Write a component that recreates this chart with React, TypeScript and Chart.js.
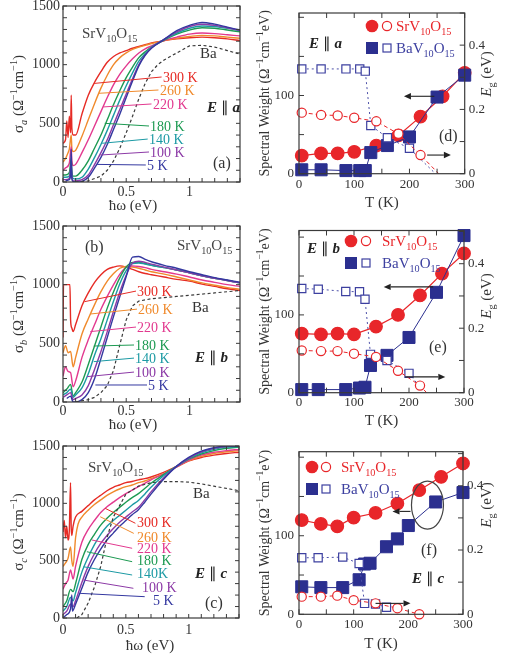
import React, { useEffect, useRef } from 'react';
import { Chart, registerables } from 'chart.js';
Chart.register(...registerables);

const SERIF = '"Liberation Serif", "Times New Roman", Times, serif';
const INK = '#333333';
const RED = '#e8262a';
const NAVY = '#2b2f8f';
const NAVY_TXT = '#3d40a0';

// ---------- temperature legend of the spectra ----------
const TEMP_LABELS = ['300 K', '260 K', '220 K', '180 K', '140 K', '100 K', '5 K'];
const TEMP_LABELS_C = ['300 K', '260 K', '220 K', '180 K', '140K', '100 K', '5 K'];
const TEMP_COLORS = ['#e62b25', '#f08a2c', '#e2398f', '#1d9a52', '#1c9aa4', '#8c3aa6', '#3438a0'];

// ---------- (a) sigma_a [eV, ohm^-1 cm^-1] ----------
const A_300 = [[0,330],[0.02,360],[0.03,520],[0.04,380],[0.05,560],[0.06,420],[0.065,740],[0.07,460],[0.08,400],[0.1,400],[0.15,580],[0.2,740],[0.25,850],[0.3,940],[0.35,1020],[0.4,1070],[0.45,1100],[0.5,1120],[0.55,1140],[0.6,1155],[0.65,1170],[0.7,1185],[0.8,1205],[0.9,1220],[1.0,1230],[1.1,1235],[1.2,1230],[1.3,1220],[1.4,1205]];
const A_260 = [[0,170],[0.02,200],[0.04,250],[0.05,280],[0.065,400],[0.07,290],[0.08,260],[0.1,270],[0.15,390],[0.2,530],[0.25,670],[0.3,800],[0.35,910],[0.4,1000],[0.45,1060],[0.5,1100],[0.55,1130],[0.6,1150],[0.65,1165],[0.7,1180],[0.8,1205],[0.9,1225],[1.0,1240],[1.1,1250],[1.2,1245],[1.3,1235],[1.4,1225]];
const A_220 = [[0,100],[0.02,120],[0.05,160],[0.065,300],[0.07,180],[0.08,140],[0.1,150],[0.15,250],[0.2,360],[0.25,480],[0.3,600],[0.35,720],[0.4,830],[0.45,920],[0.5,990],[0.55,1050],[0.6,1100],[0.65,1135],[0.7,1160],[0.8,1205],[0.9,1235],[1.0,1260],[1.1,1270],[1.2,1265],[1.3,1255],[1.4,1245]];
const A_180 = [[0,60],[0.02,60],[0.05,80],[0.065,200],[0.07,90],[0.08,50],[0.1,50],[0.15,100],[0.2,180],[0.25,290],[0.3,400],[0.35,530],[0.4,660],[0.45,780],[0.5,890],[0.55,980],[0.6,1060],[0.65,1110],[0.7,1150],[0.8,1210],[0.9,1260],[1.0,1295],[1.1,1315],[1.2,1310],[1.3,1295],[1.4,1280]];
const A_140 = [[0,40],[0.02,40],[0.05,50],[0.065,120],[0.07,60],[0.08,30],[0.1,25],[0.15,40],[0.2,110],[0.25,210],[0.3,320],[0.35,440],[0.4,570],[0.45,700],[0.5,820],[0.55,930],[0.6,1030],[0.65,1095],[0.7,1150],[0.8,1215],[0.9,1270],[1.0,1310],[1.1,1330],[1.2,1325],[1.3,1310],[1.4,1290]];
const A_100 = [[0,20],[0.02,20],[0.05,30],[0.065,150],[0.07,40],[0.08,10],[0.1,10],[0.15,20],[0.2,60],[0.25,150],[0.3,250],[0.35,360],[0.4,490],[0.45,620],[0.5,750],[0.55,880],[0.6,1000],[0.65,1085],[0.7,1145],[0.8,1215],[0.9,1280],[1.0,1325],[1.1,1345],[1.2,1335],[1.3,1315],[1.4,1290]];
const A_5 = [[0.02,10],[0.05,20],[0.06,60],[0.065,280],[0.07,30],[0.08,5],[0.1,0],[0.15,5],[0.2,40],[0.25,120],[0.3,210],[0.35,320],[0.4,450],[0.45,580],[0.5,720],[0.55,860],[0.6,990],[0.65,1080],[0.7,1140],[0.8,1215],[0.9,1290],[1.0,1335],[1.1,1360],[1.2,1345],[1.3,1320],[1.4,1295]];
const A_BA = [[0.1,0],[0.2,10],[0.3,50],[0.35,100],[0.4,180],[0.45,290],[0.5,420],[0.55,560],[0.6,710],[0.65,840],[0.7,940],[0.75,1000],[0.8,1040],[0.9,1100],[1.0,1160],[1.1,1165],[1.2,1150],[1.3,1120],[1.4,1090]];

// ---------- (b) sigma_b ----------
const B_300 = [[0,550],[0.004,1000],[0.055,1000],[0.06,700],[0.07,630],[0.08,600],[0.1,660],[0.15,820],[0.2,930],[0.25,1020],[0.3,1085],[0.35,1130],[0.4,1150],[0.45,1160],[0.5,1150],[0.55,1130],[0.6,1110],[0.65,1095],[0.7,1085],[0.8,1065],[0.9,1045],[1.0,1030],[1.1,1005],[1.2,985],[1.3,965],[1.4,950]];
const B_260 = [[0,420],[0.02,480],[0.04,420],[0.06,430],[0.08,300],[0.1,380],[0.15,580],[0.2,710],[0.25,830],[0.3,940],[0.35,1030],[0.4,1095],[0.45,1140],[0.5,1155],[0.55,1150],[0.6,1140],[0.65,1125],[0.7,1110],[0.8,1090],[0.9,1065],[1.0,1040],[1.1,1015],[1.2,995],[1.3,975],[1.4,960]];
const B_220 = [[0,220],[0.02,300],[0.04,260],[0.06,250],[0.08,130],[0.1,180],[0.15,380],[0.2,530],[0.25,660],[0.3,790],[0.35,900],[0.4,1000],[0.45,1090],[0.5,1150],[0.55,1160],[0.6,1155],[0.65,1145],[0.7,1130],[0.8,1110],[0.9,1090],[1.0,1065],[1.1,1040],[1.2,1020],[1.3,1000],[1.4,985]];
const B_180 = [[0,80],[0.03,110],[0.06,150],[0.08,50],[0.1,80],[0.15,170],[0.2,320],[0.25,480],[0.3,640],[0.35,800],[0.4,940],[0.45,1060],[0.5,1150],[0.55,1190],[0.6,1190],[0.65,1180],[0.7,1165],[0.8,1145],[0.9,1125],[1.0,1100],[1.1,1075],[1.2,1055],[1.3,1035],[1.4,1015]];
const B_140 = [[0,60],[0.03,80],[0.06,110],[0.08,40],[0.1,60],[0.15,120],[0.2,240],[0.25,400],[0.3,540],[0.35,700],[0.4,860],[0.45,1010],[0.5,1120],[0.55,1180],[0.6,1185],[0.65,1175],[0.7,1165],[0.8,1145],[0.9,1125],[1.0,1100],[1.1,1075],[1.2,1055],[1.3,1035],[1.4,1015]];
const B_100 = [[0,40],[0.03,60],[0.06,80],[0.08,20],[0.1,30],[0.15,60],[0.2,140],[0.25,280],[0.3,430],[0.35,600],[0.4,775],[0.45,940],[0.5,1080],[0.55,1185],[0.6,1200],[0.65,1190],[0.7,1175],[0.8,1150],[0.9,1125],[1.0,1100],[1.1,1075],[1.2,1055],[1.3,1035],[1.4,1015]];
const B_5 = [[0.03,30],[0.06,50],[0.08,0],[0.1,0],[0.15,20],[0.2,80],[0.25,200],[0.3,370],[0.35,550],[0.4,730],[0.45,900],[0.5,1070],[0.55,1235],[0.6,1240],[0.65,1215],[0.7,1195],[0.8,1165],[0.9,1140],[1.0,1110],[1.1,1085],[1.2,1060],[1.3,1040],[1.4,1020]];
const B_BA = [[0.1,0],[0.2,20],[0.25,40],[0.3,80],[0.35,140],[0.4,270],[0.45,490],[0.5,700],[0.55,820],[0.6,860],[0.7,880],[0.8,890],[0.9,900],[1.0,910],[1.1,920],[1.2,930],[1.3,940],[1.4,950]];

// ---------- (c) sigma_c ----------
const C_300 = [[0,750],[0.01,850],[0.02,700],[0.03,800],[0.04,680],[0.05,760],[0.06,1180],[0.065,800],[0.07,720],[0.08,800],[0.1,880],[0.15,930],[0.2,980],[0.25,1030],[0.3,1070],[0.35,1110],[0.4,1140],[0.45,1160],[0.5,1180],[0.55,1190],[0.6,1205],[0.65,1215],[0.7,1230],[0.8,1270],[0.9,1320],[1.0,1370],[1.1,1400],[1.2,1420],[1.3,1435],[1.4,1445]];
const C_260 = [[0,450],[0.02,480],[0.04,520],[0.06,620],[0.07,500],[0.08,450],[0.1,700],[0.12,820],[0.15,880],[0.2,940],[0.25,990],[0.3,1030],[0.35,1070],[0.4,1100],[0.45,1125],[0.5,1145],[0.55,1160],[0.6,1180],[0.65,1195],[0.7,1215],[0.8,1260],[0.9,1315],[1.0,1370],[1.1,1410],[1.2,1435],[1.3,1450],[1.4,1460]];
const C_220 = [[0,250],[0.02,300],[0.04,330],[0.06,420],[0.07,380],[0.08,340],[0.1,450],[0.15,660],[0.2,770],[0.25,850],[0.3,920],[0.35,970],[0.4,1010],[0.45,1050],[0.5,1085],[0.55,1115],[0.6,1145],[0.65,1175],[0.7,1205],[0.8,1255],[0.9,1315],[1.0,1375],[1.1,1420],[1.2,1445],[1.3,1460],[1.4,1470]];
const C_180 = [[0,100],[0.03,150],[0.06,250],[0.08,230],[0.1,300],[0.15,510],[0.2,640],[0.25,730],[0.3,810],[0.35,870],[0.4,920],[0.45,965],[0.5,1010],[0.55,1050],[0.6,1085],[0.65,1130],[0.7,1175],[0.8,1250],[0.9,1320],[1.0,1385],[1.1,1430],[1.2,1460],[1.3,1480],[1.4,1490]];
const C_140 = [[0,60],[0.03,100],[0.06,180],[0.08,150],[0.1,220],[0.15,400],[0.2,530],[0.25,640],[0.3,730],[0.35,800],[0.4,850],[0.45,895],[0.5,940],[0.55,985],[0.6,1025],[0.65,1080],[0.7,1140],[0.8,1240],[0.9,1320],[1.0,1390],[1.1,1440],[1.2,1470],[1.3,1490],[1.4,1495]];
const C_100 = [[0,30],[0.03,60],[0.06,120],[0.08,100],[0.1,150],[0.15,310],[0.2,450],[0.25,560],[0.3,650],[0.35,720],[0.4,780],[0.45,835],[0.5,880],[0.55,925],[0.6,965],[0.65,1030],[0.7,1100],[0.8,1220],[0.9,1320],[1.0,1395],[1.1,1450],[1.2,1480],[1.3,1495],[1.4,1500]];
const C_5 = [[0,0],[0.03,30],[0.06,80],[0.07,200],[0.075,60],[0.1,120],[0.15,260],[0.2,400],[0.25,510],[0.3,600],[0.35,680],[0.4,740],[0.45,800],[0.5,850],[0.55,900],[0.6,945],[0.65,1010],[0.7,1080],[0.8,1210],[0.9,1320],[1.0,1400],[1.1,1455],[1.2,1485],[1.3,1500],[1.4,1500]];
const C_BA = [[0.11,0],[0.15,30],[0.2,130],[0.25,270],[0.3,450],[0.35,700],[0.4,880],[0.45,980],[0.5,1080],[0.6,1150],[0.7,1180],[0.8,1190],[0.9,1190],[1.0,1185],[1.1,1170],[1.2,1150],[1.3,1130],[1.4,1110]];

// ---------- (d) E || a : spectral weight and gap ----------
const D_T_SR = [5, 40, 70, 100, 140, 180, 220, 260, 300];
const D_SW_SR = [23, 26, 26, 28, 36, 49, 73, 99, 129];
const D_T_BA = [5, 40, 85, 110, 120, 130, 160, 200, 250, 300];
const D_SW_BA = [5, 5, 4, 4, 4, 27, 36, 47, 98, 126];
const D_EG_T_SR = [5, 40, 70, 100, 140, 180, 220];
const D_EG_SR = [0.19, 0.183, 0.181, 0.174, 0.163, 0.124, 0.058];
const D_EG_T_BA = [5, 40, 85, 110, 120, 130, 160, 200];
const D_EG_BA = [0.326, 0.326, 0.326, 0.326, 0.319, 0.15, 0.112, 0.079];
const D_EG_ZERO = [253, 247]; // T where the dashed extrapolations reach Eg = 0 (Sr, Ba)

// ---------- (e) E || b ----------
const E_T_SR = [5, 40, 70, 100, 140, 180, 220, 260, 300];
const E_SW_SR = [76, 75, 76, 75, 85, 100, 125, 153, 179];
const E_T_BA = [5, 35, 85, 110, 120, 130, 160, 200, 250, 300];
const E_SW_BA = [4, 4, 4, 6, 7, 35, 48, 71, 129, 202];
const E_EG_T_SR = [5, 40, 70, 100, 140, 180, 220];
const E_EG_SR = [0.131, 0.129, 0.129, 0.121, 0.111, 0.068, 0.022];
const E_EG_T_BA = [5, 35, 85, 110, 120, 130, 160, 200];
const E_EG_BA = [0.323, 0.321, 0.314, 0.313, 0.29, 0.119, 0.1, 0.06];
const E_EG_ZERO = [232, 228];

// ---------- (f) E || c ----------
const F_T_SR = [5, 40, 70, 100, 140, 180, 220, 260, 300];
const F_SW_SR = [120, 115, 112, 123, 129, 141, 158, 175, 192];
const F_T_BA = [5, 40, 80, 110, 120, 130, 160, 180, 200, 250, 300];
const F_SW_BA = [35, 34, 34, 44, 64, 65, 86, 96, 113, 143, 155];
const F_EG_T_SR = [5, 40, 70, 100, 140, 180, 220];
const F_EG_SR = [0.055, 0.055, 0.058, 0.044, 0.034, 0.019, 0];
const F_EG_T_BA = [5, 35, 80, 110, 120, 140, 160];
const F_EG_BA = [0.176, 0.176, 0.178, 0.158, 0.034, 0.032, 0.022];
const F_EG_ZERO = [null, null];

// ---------- rich text helpers ----------
type Part = [string, string];
const SR_NAME: Part[] = [['SrV', ''], ['10', '_'], ['O', ''], ['15', '_']];
const BA_NAME: Part[] = [['BaV', ''], ['10', '_'], ['O', ''], ['15', '_']];
const sigmaTitle = (s: string): Part[] => [['σ', ''], [s, 'i_'], [' (Ω', ''], ['−1', '^'], ['cm', ''], ['−1', '^'], [')', '']];
const SW_TITLE: Part[] = [['Spectral Weight (Ω', ''], ['−1', '^'], ['cm', ''], ['−1', '^'], ['eV)', '']];
const EG_TITLE: Part[] = [['E', 'i'], ['g', '_'], [' (eV)', '']];
const ePar = (s: string): Part[] => [['E', 'bi'], [' ∥ ', ''], [s, 'bi']];

function partFont(style: string, size: number) {
  const small = style.includes('_') || style.includes('^');
  const sz = small ? size * 0.68 : size;
  return {
    font: `${style.includes('i') ? 'italic ' : ''}${style.includes('b') ? 'bold ' : ''}${sz}px ${SERIF}`,
    dy: style.includes('_') ? size * 0.28 : style.includes('^') ? -size * 0.38 : 0,
  };
}
function drawRich(ctx: any, parts: Part[], x: number, y: number, size: number, color: string, align = 'left', rot = 0) {
  ctx.save();
  ctx.translate(x, y);
  if (rot) ctx.rotate(rot);
  ctx.fillStyle = color;
  ctx.textAlign = 'left';
  ctx.textBaseline = 'alphabetic';
  let w = 0;
  for (const [t, s] of parts) { ctx.font = partFont(s, size).font; w += ctx.measureText(t).width; }
  let cx = align === 'center' ? -w / 2 : align === 'right' ? -w : 0;
  const base = size * 0.34;
  for (const [t, s] of parts) {
    const f = partFont(s, size);
    ctx.font = f.font;
    ctx.fillText(t, cx, base + f.dy);
    cx += ctx.measureText(t).width;
  }
  ctx.restore();
}

function drawTicks(ctx: any, scale: any, step: number, side: string, a: any, len: number) {
  const n = Math.round((scale.max - scale.min) / step + 1e-6);
  for (let k = 0; k <= n; k++) {
    const v = scale.min + k * step;
    const p = scale.getPixelForValue(v);
    ctx.beginPath();
    if (side === 'bottom') { ctx.moveTo(p, a.bottom); ctx.lineTo(p, a.bottom - len); }
    if (side === 'top') { ctx.moveTo(p, a.top); ctx.lineTo(p, a.top + len); }
    if (side === 'left') { ctx.moveTo(a.left, p); ctx.lineTo(a.left + len, p); }
    if (side === 'right') { ctx.moveTo(a.right, p); ctx.lineTo(a.right - len, p); }
    ctx.stroke();
  }
}

function arrow(ctx: any, x1: number, y1: number, x2: number, y2: number, color: string) {
  const ang = Math.atan2(y2 - y1, x2 - x1);
  const hl = 7, hw = 3.2;
  ctx.save();
  ctx.strokeStyle = color; ctx.fillStyle = color; ctx.lineWidth = 1.1;
  ctx.beginPath(); ctx.moveTo(x1, y1);
  ctx.lineTo(x2 - hl * Math.cos(ang), y2 - hl * Math.sin(ang)); ctx.stroke();
  ctx.beginPath();
  ctx.moveTo(x2, y2);
  ctx.lineTo(x2 - hl * Math.cos(ang) + hw * Math.sin(ang), y2 - hl * Math.sin(ang) - hw * Math.cos(ang));
  ctx.lineTo(x2 - hl * Math.cos(ang) - hw * Math.sin(ang), y2 - hl * Math.sin(ang) + hw * Math.cos(ang));
  ctx.closePath(); ctx.fill();
  ctx.restore();
}

const tickLabel = (majors: number[]) => (v: any) => {
  const m = majors.find((t) => Math.abs(t - Number(v)) < 1e-6);
  return m === undefined ? '' : String(m);
};
const tickFont = { family: SERIF, size: 14 };
const tickFontR = { family: SERIF, size: 13 };

// ---------- spectra panels (left column) ----------
function spectraConfig(p: any) {
  const datasets: any[] = [];
  datasets.push({
    data: p.ba.map(([x, y]: number[]) => ({ x, y })),
    borderColor: '#3a3a3a', borderDash: [3, 2.5], borderWidth: 1.2, pointRadius: 0,
  });
  for (let i = p.curves.length - 1; i >= 0; i--) {
    datasets.push({
      data: p.curves[i].map(([x, y]: number[]) => ({ x, y })),
      borderColor: TEMP_COLORS[i], borderWidth: 1.4, pointRadius: 0, cubicInterpolationMode: 'monotone',
    });
  }
  const plugin = {
    id: 'spectraDeco',
    afterDatasetsDraw(chart: any) {
      const { ctx, chartArea: a, scales } = chart;
      ctx.save();
      ctx.strokeStyle = '#3a3a3a'; ctx.lineWidth = 1;
      drawTicks(ctx, scales.x, 0.1, 'bottom', a, 4);
      drawTicks(ctx, scales.x, 0.1, 'top', a, 4);
      drawTicks(ctx, scales.y, 100, 'left', a, 4);
      drawTicks(ctx, scales.y, 100, 'right', a, 4);
      ctx.lineWidth = 1.2;
      ctx.strokeRect(a.left, a.top, a.right - a.left, a.bottom - a.top);
      // leader lines
      p.leaders.forEach((ld: number[][], i: number) => {
        ctx.strokeStyle = TEMP_COLORS[i]; ctx.lineWidth = 1;
        ctx.beginPath();
        ctx.moveTo(scales.x.getPixelForValue(ld[0][0]), scales.y.getPixelForValue(ld[0][1]));
        ctx.lineTo(scales.x.getPixelForValue(ld[1][0]), scales.y.getPixelForValue(ld[1][1]));
        ctx.stroke();
      });
      ctx.restore();
    },
    afterDraw(chart: any) {
      const { ctx, chartArea: a } = chart;
      const ym = (a.top + a.bottom) / 2;
      p.labelPos.forEach((lp: number[], i: number) => {
        ctx.save(); ctx.fillStyle = '#fff';
        ctx.font = `14px ${SERIF}`;
        const w = ctx.measureText(p.labels[i]).width;
        ctx.fillRect(lp[0] - 1, lp[1] - 5, w + 2, 10);
        ctx.restore();
        drawRich(ctx, [[p.labels[i], '']], lp[0], lp[1], 14, TEMP_COLORS[i]);
      });
      drawRich(ctx, SR_NAME, p.name[0], p.name[1], 15, '#444');
      drawRich(ctx, [['Ba', '']], p.ba_lbl[0], p.ba_lbl[1], 15, '#333');
      drawRich(ctx, ePar(p.axis), p.epar[0], p.epar[1], 15, '#222');
      drawRich(ctx, [[p.tag, '']], p.tagPos[0], p.tagPos[1], 16, '#333');
      drawRich(ctx, sigmaTitle(p.axis), 18, ym, 15, '#333', 'center', -Math.PI / 2);
      drawRich(ctx, [['ħω (eV)', '']], p.xTitle[0], p.xTitle[1], 15, '#333', 'center');
    },
  };
  return {
    type: 'line',
    data: { datasets },
    plugins: [plugin],
    options: {
      animation: false, responsive: false, devicePixelRatio: 1,
      layout: { padding: { top: p.g.top, right: p.g.right, left: 0, bottom: 0 } },
      plugins: { legend: { display: false }, tooltip: { enabled: false } },
      scales: {
        x: {
          type: 'linear', min: 0, max: 1.4,
          grid: { display: false, drawTicks: false }, border: { display: false },
          ticks: { stepSize: 0.1, autoSkip: false, maxRotation: 0, padding: p.g.xpad, color: INK, font: tickFont, callback: tickLabel([0, 0.5, 1]) },
          afterFit: (s: any) => { s.height = p.g.xh; s.paddingLeft = 0; s.paddingRight = 0; },
        },
        y: {
          type: 'linear', min: 0, max: 1500,
          grid: { display: false, drawTicks: false }, border: { display: false },
          ticks: { stepSize: 100, autoSkip: false, padding: 3, color: INK, font: tickFont, callback: tickLabel([0, 500, 1000, 1500]) },
          afterFit: (s: any) => { s.width = 63; s.paddingTop = 0; s.paddingBottom = 0; },
        },
      },
    },
  };
}

// ---------- spectral weight panels (right column) ----------
function swConfig(p: any) {
  const pts = (T: number[], V: number[]) => T.map((t, i) => ({ x: t, y: V[i] }));
  const egSr = pts(p.egTSr, p.egSr);
  const egBa = pts(p.egTBa, p.egBa);
  if (p.zero[0] != null) egSr.push({ x: p.zero[0], y: 0 });
  if (p.zero[1] != null) egBa.push({ x: p.zero[1], y: 0 });
  const radii = (n: number, r: number, extra: boolean) => { const a = new Array(n).fill(r); if (extra) a.push(0); return a; };
  const datasets: any[] = [
    {
      data: egSr, yAxisID: 'y1', borderColor: RED, borderDash: [4, 3], borderWidth: 1,
      pointStyle: 'circle', pointRadius: radii(p.egSr.length, 4.6, p.zero[0] != null),
      pointBackgroundColor: '#fff', pointBorderColor: RED, pointBorderWidth: 1.2, clip: false,
    },
    {
      data: egBa, yAxisID: 'y1', borderColor: '#4b4fa8', borderDash: [2, 3], borderWidth: 1,
      pointStyle: 'rect', pointRadius: radii(p.egBa.length, 5.8, p.zero[1] != null),
      pointBackgroundColor: '#fff', pointBorderColor: '#3d40a0', pointBorderWidth: 1.2, clip: false,
    },
    {
      data: pts(p.tBa, p.swBa), yAxisID: 'y', borderColor: NAVY, borderWidth: 1,
      pointStyle: 'rect', pointRadius: 8.5, pointBackgroundColor: NAVY, pointBorderColor: NAVY, clip: false,
    },
    {
      data: pts(p.tSr, p.swSr), yAxisID: 'y', borderColor: RED, borderWidth: 1.2,
      pointStyle: 'circle', pointRadius: 6.3, pointBackgroundColor: RED, pointBorderColor: RED, clip: false,
    },
  ];
  const plugin = {
    id: 'swDeco',
    afterDatasetsDraw(chart: any) {
      const { ctx, chartArea: a, scales } = chart;
      ctx.save();
      ctx.strokeStyle = '#3a3a3a'; ctx.lineWidth = 1;
      drawTicks(ctx, scales.x, 50, 'bottom', a, 5);
      drawTicks(ctx, scales.x, 50, 'top', a, 5);
      drawTicks(ctx, scales.y, 50, 'left', a, 5);
      drawTicks(ctx, scales.y1, 0.1, 'right', a, 5);
      ctx.lineWidth = 1.2;
      ctx.strokeRect(a.left, a.top, a.right - a.left, a.bottom - a.top);
      ctx.restore();
      const X = (v: number) => scales.x.getPixelForValue(v);
      arrow(ctx, X(p.arrL[0]), scales.y.getPixelForValue(p.arrL[2]), X(p.arrL[1]), scales.y.getPixelForValue(p.arrL[2]), '#222');
      arrow(ctx, X(p.arrR[0]), scales.y1.getPixelForValue(p.arrR[2]), X(p.arrR[1]), scales.y1.getPixelForValue(p.arrR[2]), '#222');
      if (p.ellipse) {
        ctx.save(); ctx.strokeStyle = '#444'; ctx.lineWidth = 1.2;
        ctx.beginPath();
        ctx.ellipse(X(p.ellipse[0]), scales.y.getPixelForValue(p.ellipse[1]), p.ellipse[2], p.ellipse[3], 0, 0, Math.PI * 2);
        ctx.stroke(); ctx.restore();
      }
    },
    afterDraw(chart: any) {
      const { ctx, chartArea: a } = chart;
      const L = p.legend;
      ctx.save();
      ctx.fillStyle = RED;
      ctx.beginPath(); ctx.arc(L.xf, L.y1, 6.3, 0, Math.PI * 2); ctx.fill();
      ctx.strokeStyle = RED; ctx.lineWidth = 1.2;
      ctx.beginPath(); ctx.arc(L.xo, L.y1, 4.6, 0, Math.PI * 2); ctx.stroke();
      ctx.fillStyle = NAVY;
      ctx.fillRect(L.xf - 6, L.y2 - 6, 12, 12);
      ctx.strokeStyle = '#3d40a0';
      ctx.strokeRect(L.xo - 4, L.y2 - 4, 8, 8);
      ctx.restore();
      drawRich(ctx, SR_NAME, L.xt, L.y1, 15, RED);
      drawRich(ctx, BA_NAME, L.xt, L.y2, 15, NAVY_TXT);
      drawRich(ctx, ePar(p.axis), p.epar[0], p.epar[1], 15, '#222');
      drawRich(ctx, [[p.tag, '']], p.tagPos[0], p.tagPos[1], 16, '#333');
      const ym = (a.top + a.bottom) / 2;
      drawRich(ctx, SW_TITLE, 10, ym, 14, '#333', 'center', -Math.PI / 2);
      drawRich(ctx, EG_TITLE, 232, p.egY, 15, '#333', 'center', -Math.PI / 2);
      drawRich(ctx, [['T (K)', '']], (a.left + a.right) / 2, p.xTitleY, 15, '#333', 'center');
    },
  };
  return {
    type: 'line',
    data: { datasets },
    plugins: [plugin],
    options: {
      animation: false, responsive: false, devicePixelRatio: 1,
      layout: { padding: { top: p.g.top, right: 0, left: 0, bottom: 0 } },
      plugins: { legend: { display: false }, tooltip: { enabled: false } },
      scales: {
        x: {
          type: 'linear', min: 0, max: 300,
          grid: { display: false, drawTicks: false }, border: { display: false },
          ticks: { stepSize: 50, autoSkip: false, maxRotation: 0, padding: p.g.xpad, color: INK, font: tickFontR, callback: tickLabel([0, 100, 200, 300]) },
          afterFit: (s: any) => { s.height = p.g.xh; s.paddingLeft = 0; s.paddingRight = 0; },
        },
        y: {
          type: 'linear', position: 'left', min: 0, max: p.g.ymax,
          grid: { display: false, drawTicks: false }, border: { display: false },
          ticks: { stepSize: 50, autoSkip: false, padding: 5, color: INK, font: tickFontR, callback: tickLabel([0, 100, 200]) },
          afterFit: (s: any) => { s.width = 45; s.paddingTop = 0; s.paddingBottom = 0; },
        },
        y1: {
          type: 'linear', position: 'right', min: 0, max: p.g.y1max,
          grid: { display: false, drawTicks: false }, border: { display: false },
          ticks: { stepSize: 0.1, autoSkip: false, padding: 4, color: INK, font: tickFontR, callback: tickLabel([0, 0.2, 0.4]) },
          afterFit: (s: any) => { s.width = p.g.rw; s.paddingTop = 0; s.paddingBottom = 0; },
        },
      },
    },
  };
}

const PANEL_A = {
  curves: [A_300, A_260, A_220, A_180, A_140, A_100, A_5], ba: A_BA, labels: TEMP_LABELS, axis: 'a', tag: '(a)',
  g: { top: 6, right: 14, xh: 38, xpad: 2 },
  labelPos: [[163, 77], [160, 90], [153, 104], [150, 126], [149, 139], [150, 152], [147, 165]],
  leaders: [[[0.78, 895], [0.245, 840]], [[0.755, 784], [0.283, 756]], [[0.7, 665], [0.32, 640]], [[0.685, 477], [0.33, 500]], [[0.67, 366], [0.31, 330]], [[0.685, 256], [0.296, 230]], [[0.655, 145], [0.27, 150]]],
  name: [82, 33], ba_lbl: [200, 53], epar: [207, 107], tagPos: [213, 163], xTitle: [133, 205],
};
const PANEL_B = {
  curves: [B_300, B_260, B_220, B_180, B_140, B_100, B_5], ba: B_BA, labels: TEMP_LABELS, axis: 'b', tag: '(b)',
  g: { top: 6, right: 14, xh: 38, xpad: 1 },
  labelPos: [[137, 71], [138, 89], [137, 107], [135, 125], [135, 138], [135, 152], [148, 165]],
  leaders: [[[0.58, 946], [0.17, 855]], [[0.59, 792], [0.216, 750]], [[0.58, 639], [0.216, 600]], [[0.57, 486], [0.243, 477]], [[0.57, 375], [0.243, 344]], [[0.57, 256], [0.19, 216]], [[0.67, 145], [0.256, 145]]],
  name: [177, 25], ba_lbl: [192, 87], epar: [195, 137], tagPos: [85, 27], xTitle: [133, 204],
};
const PANEL_C = {
  curves: [C_300, C_260, C_220, C_180, C_140, C_100, C_5], ba: C_BA, labels: TEMP_LABELS_C, axis: 'c', tag: '(c)',
  g: { top: 6, right: 15, xh: 41, xpad: 4 },
  labelPos: [[137, 82], [137, 97], [137, 108], [137, 120], [137, 133], [142, 147], [153, 160]],
  leaders: [[[0.576, 826], [0.336, 956]], [[0.563, 738], [0.296, 883]], [[0.55, 608], [0.23, 680]], [[0.55, 491], [0.19, 578]], [[0.55, 375], [0.163, 447]], [[0.56, 259], [0.163, 331]], [[0.65, 186], [0.136, 215]]],
  name: [88, 27], ba_lbl: [193, 53], epar: [195, 133], tagPos: [205, 163], xTitle: [150, 205],
};

const PANEL_D = {
  tSr: D_T_SR, swSr: D_SW_SR, tBa: D_T_BA, swBa: D_SW_BA, egTSr: D_EG_T_SR, egSr: D_EG_SR, egTBa: D_EG_T_BA, egBa: D_EG_BA, zero: D_EG_ZERO,
  g: { top: 13, xh: 46.3, rw: 43.3, ymax: 205.5, y1max: 0.5, xpad: 3 },
  axis: 'a', tag: '(d)', epar: [55, 43], tagPos: [185, 136], egY: 74, xTitleY: 202,
  legend: { xf: 118, xo: 133, xt: 142, y1: 26, y2: 48 },
  arrL: [245, 190, 99], arrR: [232, 275, 0.058], ellipse: null,
};
const PANEL_E = {
  tSr: E_T_SR, swSr: E_SW_SR, tBa: E_T_BA, swBa: E_SW_BA, egTSr: E_EG_T_SR, egSr: E_EG_SR, egTBa: E_EG_T_BA, egBa: E_EG_BA, zero: E_EG_ZERO,
  g: { top: 10.5, xh: 47.3, rw: 44, ymax: 208.5, y1max: 0.503, xpad: 2 },
  axis: 'b', tag: '(e)', epar: [53, 28], tagPos: [175, 127], egY: 76, xTitleY: 200,
  legend: { xf: 97, xo: 112, xt: 128, y1: 21, y2: 43 },
  arrL: [244, 154, 136], arrR: [193, 266, 0.049], ellipse: null,
};
const PANEL_F = {
  tSr: F_T_SR, swSr: F_SW_SR, tBa: F_T_BA, swBa: F_SW_BA, egTSr: F_EG_T_SR, egSr: F_EG_SR, egTBa: F_EG_T_BA, egBa: F_EG_BA, zero: F_EG_ZERO,
  g: { top: 11.7, xh: 44.7, rw: 45, ymax: 207, y1max: 0.506, xpad: 2 },
  axis: 'c', tag: '(f)', epar: [158, 138], tagPos: [167, 110], egY: 65, xTitleY: 203,
  legend: { xf: 58, xo: 72, xt: 87, y1: 27, y2: 49 },
  arrL: [204, 171, 131], arrR: [140, 204, 0.034], ellipse: [235, 139, 16, 24],
};

function ChartBox({ left, top, width, height, make }: any) {
  const ref = useRef<HTMLCanvasElement | null>(null);
  useEffect(() => {
    const chart = new Chart(ref.current as any, make() as any);
    return () => chart.destroy();
  }, []);
  return (
    <canvas ref={ref} width={width} height={height}
      style={{ position: 'absolute', left, top, width, height, display: 'block' }} />
  );
}

export default function App() {
  return (
    <div style={{ position: 'absolute', left: 0, top: 0, width: 508, height: 659, background: '#fff', overflow: 'hidden' }}>
      <ChartBox left={0} top={0} width={254} height={220} make={() => spectraConfig(PANEL_A)} />
      <ChartBox left={0} top={220} width={254} height={220} make={() => spectraConfig(PANEL_B)} />
      <ChartBox left={0} top={440} width={254} height={219} make={() => spectraConfig(PANEL_C)} />
      <ChartBox left={254} top={0} width={254} height={220} make={() => swConfig(PANEL_D)} />
      <ChartBox left={254} top={220} width={254} height={220} make={() => swConfig(PANEL_E)} />
      <ChartBox left={254} top={440} width={254} height={219} make={() => swConfig(PANEL_F)} />
    </div>
  );
}
